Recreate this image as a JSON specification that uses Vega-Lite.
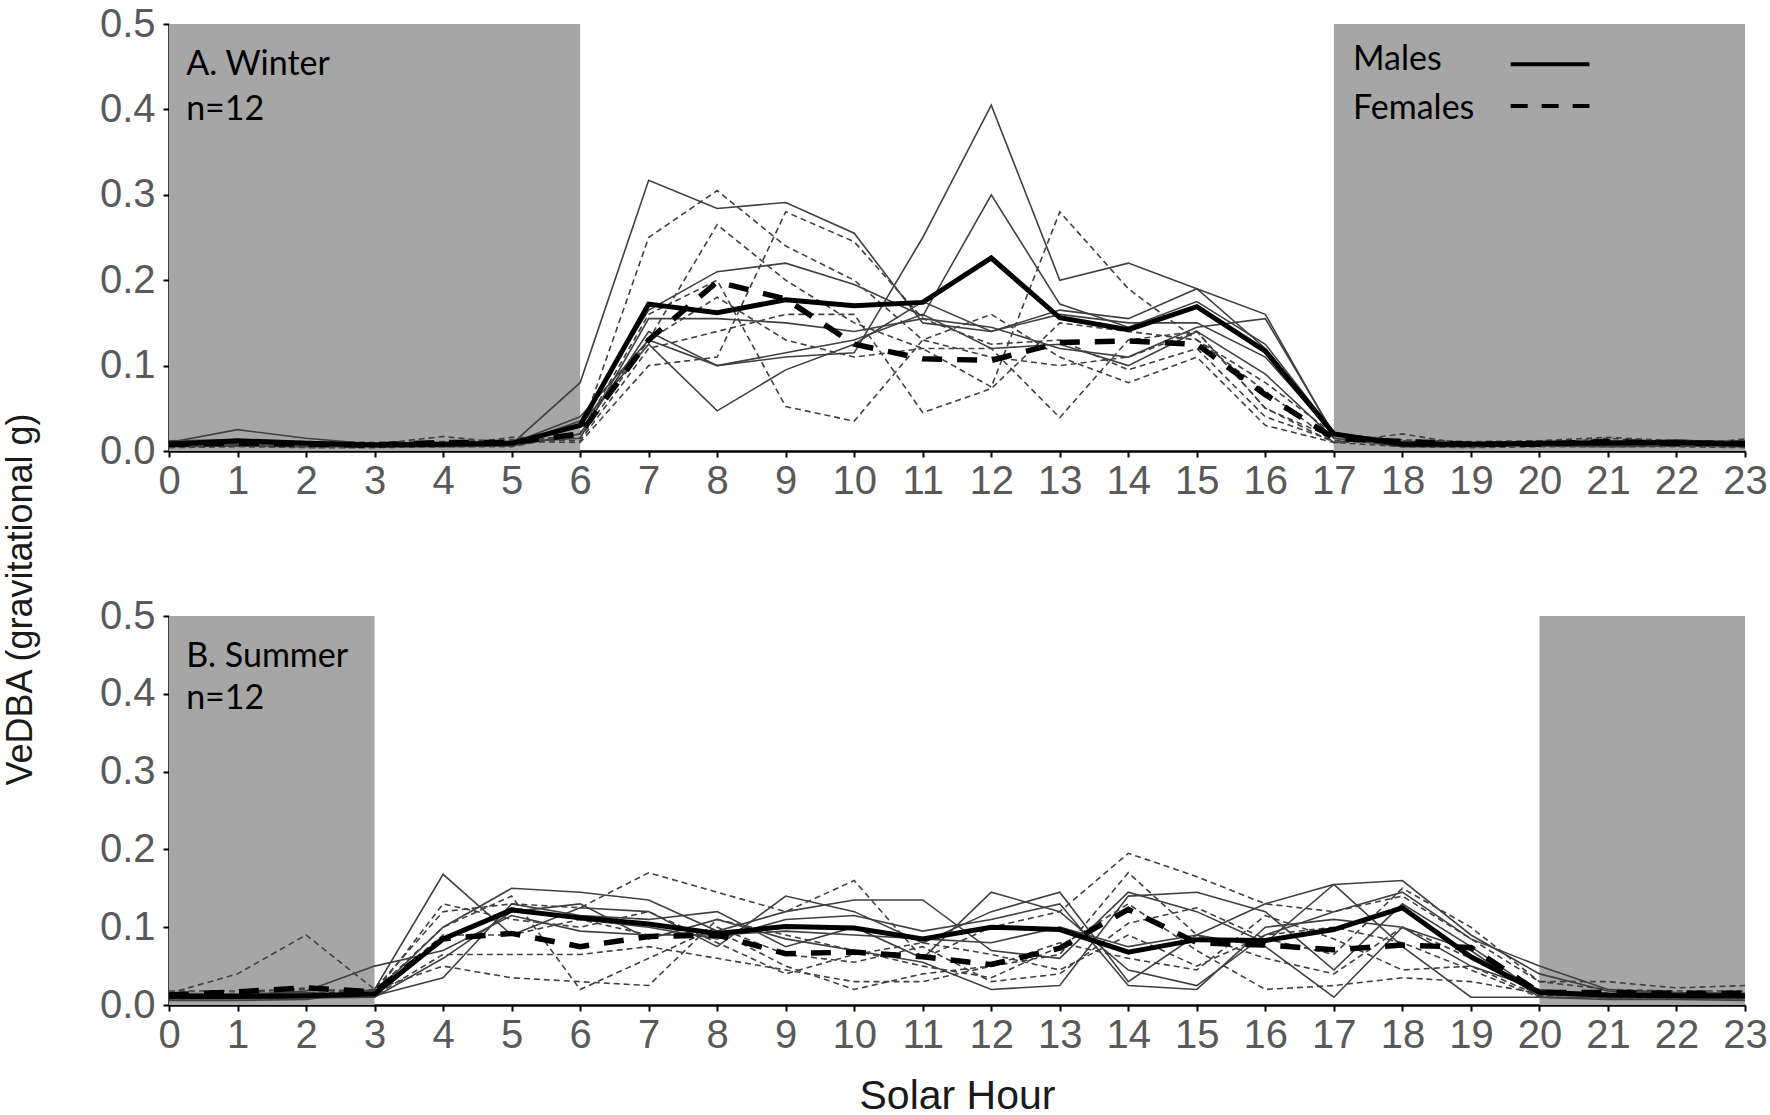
{
"$schema":"https://vega.github.io/schema/vega-lite/v6.json",
"background":"white",
"padding":{"left":1,"top":4,"right":5,"bottom":0},
"spacing":165,
"bounds":"flush",
"config":{"view":{"stroke":null},
"axis":{"grid":false,"domainColor":"#000","domainWidth":2.5,"tickColor":"#000","tickWidth":2,"tickSize":6,"labelFont":"Liberation Sans","labelFontSize":40,"labelColor":"#595959","titleFont":"Liberation Sans","titleFontSize":38,"titleColor":"#1a1a1a","titleFontWeight":"normal","labelOverlap":false,"labelFlush":false}},
"datasets":{
"shade":[{"s":"W","a":0,"b":6},{"s":"W","a":17,"b":23},{"s":"S","a":0,"b":3},{"s":"S","a":20,"b":23}],
"labels":[{"s":"W","h":0.25,"v":0.452,"t":"A. Winter"},{"s":"W","h":0.25,"v":0.399,"t":"n=12"},{"s":"S","h":0.25,"v":0.447,"t":"B. Summer"},{"s":"S","h":0.25,"v":0.393,"t":"n=12"},{"s":"W","h":17.28,"v":0.458,"t":"Males"},{"s":"W","h":17.28,"v":0.400,"t":"Females"}],
"legend":[{"g":"M","x1":19.58,"x2":20.73,"lv":0.453},{"g":"F","x1":19.58,"x2":20.73,"lv":0.404}],
"means":[
{"s":"W","g":"M","h":0,"v":0.008},{"s":"W","g":"M","h":1,"v":0.012},{"s":"W","g":"M","h":2,"v":0.009},{"s":"W","g":"M","h":3,"v":0.007},{"s":"W","g":"M","h":4,"v":0.008},{"s":"W","g":"M","h":5,"v":0.009},{"s":"W","g":"M","h":6,"v":0.030},{"s":"W","g":"M","h":7,"v":0.172},{"s":"W","g":"M","h":8,"v":0.162},{"s":"W","g":"M","h":9,"v":0.177},{"s":"W","g":"M","h":10,"v":0.170},{"s":"W","g":"M","h":11,"v":0.174},{"s":"W","g":"M","h":12,"v":0.226},{"s":"W","g":"M","h":13,"v":0.156},{"s":"W","g":"M","h":14,"v":0.142},{"s":"W","g":"M","h":15,"v":0.169},{"s":"W","g":"M","h":16,"v":0.117},{"s":"W","g":"M","h":17,"v":0.020},{"s":"W","g":"M","h":18,"v":0.008},{"s":"W","g":"M","h":19,"v":0.008},{"s":"W","g":"M","h":20,"v":0.009},{"s":"W","g":"M","h":21,"v":0.009},{"s":"W","g":"M","h":22,"v":0.010},{"s":"W","g":"M","h":23,"v":0.008},
{"s":"W","g":"F","h":0,"v":0.008},{"s":"W","g":"F","h":1,"v":0.009},{"s":"W","g":"F","h":2,"v":0.008},{"s":"W","g":"F","h":3,"v":0.007},{"s":"W","g":"F","h":4,"v":0.010},{"s":"W","g":"F","h":5,"v":0.010},{"s":"W","g":"F","h":6,"v":0.020},{"s":"W","g":"F","h":7,"v":0.130},{"s":"W","g":"F","h":8,"v":0.198},{"s":"W","g":"F","h":9,"v":0.178},{"s":"W","g":"F","h":10,"v":0.125},{"s":"W","g":"F","h":11,"v":0.108},{"s":"W","g":"F","h":12,"v":0.106},{"s":"W","g":"F","h":13,"v":0.127},{"s":"W","g":"F","h":14,"v":0.129},{"s":"W","g":"F","h":15,"v":0.125},{"s":"W","g":"F","h":16,"v":0.066},{"s":"W","g":"F","h":17,"v":0.015},{"s":"W","g":"F","h":18,"v":0.011},{"s":"W","g":"F","h":19,"v":0.008},{"s":"W","g":"F","h":20,"v":0.008},{"s":"W","g":"F","h":21,"v":0.011},{"s":"W","g":"F","h":22,"v":0.009},{"s":"W","g":"F","h":23,"v":0.009},
{"s":"S","g":"M","h":0,"v":0.011},{"s":"S","g":"M","h":1,"v":0.011},{"s":"S","g":"M","h":2,"v":0.012},{"s":"S","g":"M","h":3,"v":0.014},{"s":"S","g":"M","h":4,"v":0.085},{"s":"S","g":"M","h":5,"v":0.122},{"s":"S","g":"M","h":6,"v":0.112},{"s":"S","g":"M","h":7,"v":0.104},{"s":"S","g":"M","h":8,"v":0.092},{"s":"S","g":"M","h":9,"v":0.101},{"s":"S","g":"M","h":10,"v":0.099},{"s":"S","g":"M","h":11,"v":0.085},{"s":"S","g":"M","h":12,"v":0.100},{"s":"S","g":"M","h":13,"v":0.097},{"s":"S","g":"M","h":14,"v":0.068},{"s":"S","g":"M","h":15,"v":0.084},{"s":"S","g":"M","h":16,"v":0.083},{"s":"S","g":"M","h":17,"v":0.097},{"s":"S","g":"M","h":18,"v":0.125},{"s":"S","g":"M","h":19,"v":0.062},{"s":"S","g":"M","h":20,"v":0.016},{"s":"S","g":"M","h":21,"v":0.013},{"s":"S","g":"M","h":22,"v":0.012},{"s":"S","g":"M","h":23,"v":0.012},
{"s":"S","g":"F","h":0,"v":0.013},{"s":"S","g":"F","h":1,"v":0.017},{"s":"S","g":"F","h":2,"v":0.022},{"s":"S","g":"F","h":3,"v":0.017},{"s":"S","g":"F","h":4,"v":0.085},{"s":"S","g":"F","h":5,"v":0.092},{"s":"S","g":"F","h":6,"v":0.075},{"s":"S","g":"F","h":7,"v":0.088},{"s":"S","g":"F","h":8,"v":0.090},{"s":"S","g":"F","h":9,"v":0.066},{"s":"S","g":"F","h":10,"v":0.068},{"s":"S","g":"F","h":11,"v":0.062},{"s":"S","g":"F","h":12,"v":0.052},{"s":"S","g":"F","h":13,"v":0.073},{"s":"S","g":"F","h":14,"v":0.123},{"s":"S","g":"F","h":15,"v":0.080},{"s":"S","g":"F","h":16,"v":0.077},{"s":"S","g":"F","h":17,"v":0.071},{"s":"S","g":"F","h":18,"v":0.077},{"s":"S","g":"F","h":19,"v":0.074},{"s":"S","g":"F","h":20,"v":0.016},{"s":"S","g":"F","h":21,"v":0.016},{"s":"S","g":"F","h":22,"v":0.015},{"s":"S","g":"F","h":23,"v":0.015}
],
"ind":[
{"s":"W","id":"M1","g":"M","h":0,"v":0.008},{"s":"W","id":"M1","g":"M","h":1,"v":0.010},{"s":"W","id":"M1","g":"M","h":2,"v":0.008},{"s":"W","id":"M1","g":"M","h":3,"v":0.007},{"s":"W","id":"M1","g":"M","h":4,"v":0.007},{"s":"W","id":"M1","g":"M","h":5,"v":0.008},{"s":"W","id":"M1","g":"M","h":6,"v":0.080},{"s":"W","id":"M1","g":"M","h":7,"v":0.317},{"s":"W","id":"M1","g":"M","h":8,"v":0.284},{"s":"W","id":"M1","g":"M","h":9,"v":0.291},{"s":"W","id":"M1","g":"M","h":10,"v":0.255},{"s":"W","id":"M1","g":"M","h":11,"v":0.150},{"s":"W","id":"M1","g":"M","h":12,"v":0.140},{"s":"W","id":"M1","g":"M","h":13,"v":0.165},{"s":"W","id":"M1","g":"M","h":14,"v":0.155},{"s":"W","id":"M1","g":"M","h":15,"v":0.190},{"s":"W","id":"M1","g":"M","h":16,"v":0.120},{"s":"W","id":"M1","g":"M","h":17,"v":0.020},{"s":"W","id":"M1","g":"M","h":18,"v":0.008},{"s":"W","id":"M1","g":"M","h":19,"v":0.007},{"s":"W","id":"M1","g":"M","h":20,"v":0.008},{"s":"W","id":"M1","g":"M","h":21,"v":0.008},{"s":"W","id":"M1","g":"M","h":22,"v":0.009},{"s":"W","id":"M1","g":"M","h":23,"v":0.008},
{"s":"W","id":"M2","g":"M","h":0,"v":0.010},{"s":"W","id":"M2","g":"M","h":1,"v":0.025},{"s":"W","id":"M2","g":"M","h":2,"v":0.015},{"s":"W","id":"M2","g":"M","h":3,"v":0.008},{"s":"W","id":"M2","g":"M","h":4,"v":0.008},{"s":"W","id":"M2","g":"M","h":5,"v":0.009},{"s":"W","id":"M2","g":"M","h":6,"v":0.040},{"s":"W","id":"M2","g":"M","h":7,"v":0.130},{"s":"W","id":"M2","g":"M","h":8,"v":0.100},{"s":"W","id":"M2","g":"M","h":9,"v":0.110},{"s":"W","id":"M2","g":"M","h":10,"v":0.115},{"s":"W","id":"M2","g":"M","h":11,"v":0.250},{"s":"W","id":"M2","g":"M","h":12,"v":0.405},{"s":"W","id":"M2","g":"M","h":13,"v":0.200},{"s":"W","id":"M2","g":"M","h":14,"v":0.220},{"s":"W","id":"M2","g":"M","h":15,"v":0.190},{"s":"W","id":"M2","g":"M","h":16,"v":0.160},{"s":"W","id":"M2","g":"M","h":17,"v":0.018},{"s":"W","id":"M2","g":"M","h":18,"v":0.009},{"s":"W","id":"M2","g":"M","h":19,"v":0.008},{"s":"W","id":"M2","g":"M","h":20,"v":0.009},{"s":"W","id":"M2","g":"M","h":21,"v":0.010},{"s":"W","id":"M2","g":"M","h":22,"v":0.013},{"s":"W","id":"M2","g":"M","h":23,"v":0.009},
{"s":"W","id":"M3","g":"M","h":0,"v":0.006},{"s":"W","id":"M3","g":"M","h":1,"v":0.008},{"s":"W","id":"M3","g":"M","h":2,"v":0.007},{"s":"W","id":"M3","g":"M","h":3,"v":0.006},{"s":"W","id":"M3","g":"M","h":4,"v":0.006},{"s":"W","id":"M3","g":"M","h":5,"v":0.007},{"s":"W","id":"M3","g":"M","h":6,"v":0.035},{"s":"W","id":"M3","g":"M","h":7,"v":0.165},{"s":"W","id":"M3","g":"M","h":8,"v":0.210},{"s":"W","id":"M3","g":"M","h":9,"v":0.220},{"s":"W","id":"M3","g":"M","h":10,"v":0.195},{"s":"W","id":"M3","g":"M","h":11,"v":0.158},{"s":"W","id":"M3","g":"M","h":12,"v":0.300},{"s":"W","id":"M3","g":"M","h":13,"v":0.172},{"s":"W","id":"M3","g":"M","h":14,"v":0.145},{"s":"W","id":"M3","g":"M","h":15,"v":0.175},{"s":"W","id":"M3","g":"M","h":16,"v":0.125},{"s":"W","id":"M3","g":"M","h":17,"v":0.022},{"s":"W","id":"M3","g":"M","h":18,"v":0.006},{"s":"W","id":"M3","g":"M","h":19,"v":0.006},{"s":"W","id":"M3","g":"M","h":20,"v":0.007},{"s":"W","id":"M3","g":"M","h":21,"v":0.007},{"s":"W","id":"M3","g":"M","h":22,"v":0.007},{"s":"W","id":"M3","g":"M","h":23,"v":0.006},
{"s":"W","id":"M4","g":"M","h":0,"v":0.012},{"s":"W","id":"M4","g":"M","h":1,"v":0.013},{"s":"W","id":"M4","g":"M","h":2,"v":0.010},{"s":"W","id":"M4","g":"M","h":3,"v":0.009},{"s":"W","id":"M4","g":"M","h":4,"v":0.010},{"s":"W","id":"M4","g":"M","h":5,"v":0.011},{"s":"W","id":"M4","g":"M","h":6,"v":0.030},{"s":"W","id":"M4","g":"M","h":7,"v":0.125},{"s":"W","id":"M4","g":"M","h":8,"v":0.047},{"s":"W","id":"M4","g":"M","h":9,"v":0.095},{"s":"W","id":"M4","g":"M","h":10,"v":0.125},{"s":"W","id":"M4","g":"M","h":11,"v":0.175},{"s":"W","id":"M4","g":"M","h":12,"v":0.140},{"s":"W","id":"M4","g":"M","h":13,"v":0.160},{"s":"W","id":"M4","g":"M","h":14,"v":0.150},{"s":"W","id":"M4","g":"M","h":15,"v":0.150},{"s":"W","id":"M4","g":"M","h":16,"v":0.110},{"s":"W","id":"M4","g":"M","h":17,"v":0.020},{"s":"W","id":"M4","g":"M","h":18,"v":0.011},{"s":"W","id":"M4","g":"M","h":19,"v":0.010},{"s":"W","id":"M4","g":"M","h":20,"v":0.011},{"s":"W","id":"M4","g":"M","h":21,"v":0.012},{"s":"W","id":"M4","g":"M","h":22,"v":0.012},{"s":"W","id":"M4","g":"M","h":23,"v":0.011},
{"s":"W","id":"M5","g":"M","h":0,"v":0.009},{"s":"W","id":"M5","g":"M","h":1,"v":0.011},{"s":"W","id":"M5","g":"M","h":2,"v":0.009},{"s":"W","id":"M5","g":"M","h":3,"v":0.008},{"s":"W","id":"M5","g":"M","h":4,"v":0.009},{"s":"W","id":"M5","g":"M","h":5,"v":0.010},{"s":"W","id":"M5","g":"M","h":6,"v":0.015},{"s":"W","id":"M5","g":"M","h":7,"v":0.155},{"s":"W","id":"M5","g":"M","h":8,"v":0.155},{"s":"W","id":"M5","g":"M","h":9,"v":0.150},{"s":"W","id":"M5","g":"M","h":10,"v":0.140},{"s":"W","id":"M5","g":"M","h":11,"v":0.155},{"s":"W","id":"M5","g":"M","h":12,"v":0.145},{"s":"W","id":"M5","g":"M","h":13,"v":0.120},{"s":"W","id":"M5","g":"M","h":14,"v":0.110},{"s":"W","id":"M5","g":"M","h":15,"v":0.145},{"s":"W","id":"M5","g":"M","h":16,"v":0.155},{"s":"W","id":"M5","g":"M","h":17,"v":0.020},{"s":"W","id":"M5","g":"M","h":18,"v":0.010},{"s":"W","id":"M5","g":"M","h":19,"v":0.009},{"s":"W","id":"M5","g":"M","h":20,"v":0.010},{"s":"W","id":"M5","g":"M","h":21,"v":0.010},{"s":"W","id":"M5","g":"M","h":22,"v":0.011},{"s":"W","id":"M5","g":"M","h":23,"v":0.010},
{"s":"W","id":"M6","g":"M","h":0,"v":0.005},{"s":"W","id":"M6","g":"M","h":1,"v":0.006},{"s":"W","id":"M6","g":"M","h":2,"v":0.005},{"s":"W","id":"M6","g":"M","h":3,"v":0.005},{"s":"W","id":"M6","g":"M","h":4,"v":0.005},{"s":"W","id":"M6","g":"M","h":5,"v":0.006},{"s":"W","id":"M6","g":"M","h":6,"v":0.020},{"s":"W","id":"M6","g":"M","h":7,"v":0.140},{"s":"W","id":"M6","g":"M","h":8,"v":0.100},{"s":"W","id":"M6","g":"M","h":9,"v":0.115},{"s":"W","id":"M6","g":"M","h":10,"v":0.130},{"s":"W","id":"M6","g":"M","h":11,"v":0.160},{"s":"W","id":"M6","g":"M","h":12,"v":0.120},{"s":"W","id":"M6","g":"M","h":13,"v":0.125},{"s":"W","id":"M6","g":"M","h":14,"v":0.100},{"s":"W","id":"M6","g":"M","h":15,"v":0.140},{"s":"W","id":"M6","g":"M","h":16,"v":0.090},{"s":"W","id":"M6","g":"M","h":17,"v":0.015},{"s":"W","id":"M6","g":"M","h":18,"v":0.005},{"s":"W","id":"M6","g":"M","h":19,"v":0.005},{"s":"W","id":"M6","g":"M","h":20,"v":0.006},{"s":"W","id":"M6","g":"M","h":21,"v":0.005},{"s":"W","id":"M6","g":"M","h":22,"v":0.006},{"s":"W","id":"M6","g":"M","h":23,"v":0.005},
{"s":"W","id":"F1","g":"F","h":0,"v":0.008},{"s":"W","id":"F1","g":"F","h":1,"v":0.009},{"s":"W","id":"F1","g":"F","h":2,"v":0.008},{"s":"W","id":"F1","g":"F","h":3,"v":0.008},{"s":"W","id":"F1","g":"F","h":4,"v":0.017},{"s":"W","id":"F1","g":"F","h":5,"v":0.009},{"s":"W","id":"F1","g":"F","h":6,"v":0.020},{"s":"W","id":"F1","g":"F","h":7,"v":0.250},{"s":"W","id":"F1","g":"F","h":8,"v":0.305},{"s":"W","id":"F1","g":"F","h":9,"v":0.240},{"s":"W","id":"F1","g":"F","h":10,"v":0.200},{"s":"W","id":"F1","g":"F","h":11,"v":0.130},{"s":"W","id":"F1","g":"F","h":12,"v":0.110},{"s":"W","id":"F1","g":"F","h":13,"v":0.100},{"s":"W","id":"F1","g":"F","h":14,"v":0.110},{"s":"W","id":"F1","g":"F","h":15,"v":0.140},{"s":"W","id":"F1","g":"F","h":16,"v":0.050},{"s":"W","id":"F1","g":"F","h":17,"v":0.010},{"s":"W","id":"F1","g":"F","h":18,"v":0.012},{"s":"W","id":"F1","g":"F","h":19,"v":0.008},{"s":"W","id":"F1","g":"F","h":20,"v":0.008},{"s":"W","id":"F1","g":"F","h":21,"v":0.015},{"s":"W","id":"F1","g":"F","h":22,"v":0.009},{"s":"W","id":"F1","g":"F","h":23,"v":0.008},
{"s":"W","id":"F2","g":"F","h":0,"v":0.006},{"s":"W","id":"F2","g":"F","h":1,"v":0.007},{"s":"W","id":"F2","g":"F","h":2,"v":0.006},{"s":"W","id":"F2","g":"F","h":3,"v":0.006},{"s":"W","id":"F2","g":"F","h":4,"v":0.006},{"s":"W","id":"F2","g":"F","h":5,"v":0.016},{"s":"W","id":"F2","g":"F","h":6,"v":0.015},{"s":"W","id":"F2","g":"F","h":7,"v":0.130},{"s":"W","id":"F2","g":"F","h":8,"v":0.265},{"s":"W","id":"F2","g":"F","h":9,"v":0.200},{"s":"W","id":"F2","g":"F","h":10,"v":0.150},{"s":"W","id":"F2","g":"F","h":11,"v":0.120},{"s":"W","id":"F2","g":"F","h":12,"v":0.075},{"s":"W","id":"F2","g":"F","h":13,"v":0.280},{"s":"W","id":"F2","g":"F","h":14,"v":0.190},{"s":"W","id":"F2","g":"F","h":15,"v":0.130},{"s":"W","id":"F2","g":"F","h":16,"v":0.070},{"s":"W","id":"F2","g":"F","h":17,"v":0.010},{"s":"W","id":"F2","g":"F","h":18,"v":0.020},{"s":"W","id":"F2","g":"F","h":19,"v":0.007},{"s":"W","id":"F2","g":"F","h":20,"v":0.007},{"s":"W","id":"F2","g":"F","h":21,"v":0.008},{"s":"W","id":"F2","g":"F","h":22,"v":0.007},{"s":"W","id":"F2","g":"F","h":23,"v":0.014},
{"s":"W","id":"F3","g":"F","h":0,"v":0.010},{"s":"W","id":"F3","g":"F","h":1,"v":0.011},{"s":"W","id":"F3","g":"F","h":2,"v":0.010},{"s":"W","id":"F3","g":"F","h":3,"v":0.009},{"s":"W","id":"F3","g":"F","h":4,"v":0.010},{"s":"W","id":"F3","g":"F","h":5,"v":0.011},{"s":"W","id":"F3","g":"F","h":6,"v":0.010},{"s":"W","id":"F3","g":"F","h":7,"v":0.100},{"s":"W","id":"F3","g":"F","h":8,"v":0.110},{"s":"W","id":"F3","g":"F","h":9,"v":0.280},{"s":"W","id":"F3","g":"F","h":10,"v":0.245},{"s":"W","id":"F3","g":"F","h":11,"v":0.155},{"s":"W","id":"F3","g":"F","h":12,"v":0.125},{"s":"W","id":"F3","g":"F","h":13,"v":0.130},{"s":"W","id":"F3","g":"F","h":14,"v":0.095},{"s":"W","id":"F3","g":"F","h":15,"v":0.120},{"s":"W","id":"F3","g":"F","h":16,"v":0.040},{"s":"W","id":"F3","g":"F","h":17,"v":0.012},{"s":"W","id":"F3","g":"F","h":18,"v":0.010},{"s":"W","id":"F3","g":"F","h":19,"v":0.009},{"s":"W","id":"F3","g":"F","h":20,"v":0.010},{"s":"W","id":"F3","g":"F","h":21,"v":0.011},{"s":"W","id":"F3","g":"F","h":22,"v":0.010},{"s":"W","id":"F3","g":"F","h":23,"v":0.010},
{"s":"W","id":"F4","g":"F","h":0,"v":0.004},{"s":"W","id":"F4","g":"F","h":1,"v":0.005},{"s":"W","id":"F4","g":"F","h":2,"v":0.004},{"s":"W","id":"F4","g":"F","h":3,"v":0.004},{"s":"W","id":"F4","g":"F","h":4,"v":0.005},{"s":"W","id":"F4","g":"F","h":5,"v":0.005},{"s":"W","id":"F4","g":"F","h":6,"v":0.020},{"s":"W","id":"F4","g":"F","h":7,"v":0.160},{"s":"W","id":"F4","g":"F","h":8,"v":0.200},{"s":"W","id":"F4","g":"F","h":9,"v":0.052},{"s":"W","id":"F4","g":"F","h":10,"v":0.035},{"s":"W","id":"F4","g":"F","h":11,"v":0.130},{"s":"W","id":"F4","g":"F","h":12,"v":0.160},{"s":"W","id":"F4","g":"F","h":13,"v":0.110},{"s":"W","id":"F4","g":"F","h":14,"v":0.080},{"s":"W","id":"F4","g":"F","h":15,"v":0.110},{"s":"W","id":"F4","g":"F","h":16,"v":0.030},{"s":"W","id":"F4","g":"F","h":17,"v":0.010},{"s":"W","id":"F4","g":"F","h":18,"v":0.005},{"s":"W","id":"F4","g":"F","h":19,"v":0.004},{"s":"W","id":"F4","g":"F","h":20,"v":0.005},{"s":"W","id":"F4","g":"F","h":21,"v":0.005},{"s":"W","id":"F4","g":"F","h":22,"v":0.005},{"s":"W","id":"F4","g":"F","h":23,"v":0.004},
{"s":"W","id":"F5","g":"F","h":0,"v":0.012},{"s":"W","id":"F5","g":"F","h":1,"v":0.012},{"s":"W","id":"F5","g":"F","h":2,"v":0.011},{"s":"W","id":"F5","g":"F","h":3,"v":0.010},{"s":"W","id":"F5","g":"F","h":4,"v":0.011},{"s":"W","id":"F5","g":"F","h":5,"v":0.013},{"s":"W","id":"F5","g":"F","h":6,"v":0.012},{"s":"W","id":"F5","g":"F","h":7,"v":0.120},{"s":"W","id":"F5","g":"F","h":8,"v":0.140},{"s":"W","id":"F5","g":"F","h":9,"v":0.160},{"s":"W","id":"F5","g":"F","h":10,"v":0.160},{"s":"W","id":"F5","g":"F","h":11,"v":0.045},{"s":"W","id":"F5","g":"F","h":12,"v":0.073},{"s":"W","id":"F5","g":"F","h":13,"v":0.150},{"s":"W","id":"F5","g":"F","h":14,"v":0.140},{"s":"W","id":"F5","g":"F","h":15,"v":0.130},{"s":"W","id":"F5","g":"F","h":16,"v":0.080},{"s":"W","id":"F5","g":"F","h":17,"v":0.020},{"s":"W","id":"F5","g":"F","h":18,"v":0.013},{"s":"W","id":"F5","g":"F","h":19,"v":0.011},{"s":"W","id":"F5","g":"F","h":20,"v":0.012},{"s":"W","id":"F5","g":"F","h":21,"v":0.016},{"s":"W","id":"F5","g":"F","h":22,"v":0.012},{"s":"W","id":"F5","g":"F","h":23,"v":0.011},
{"s":"W","id":"F6","g":"F","h":0,"v":0.007},{"s":"W","id":"F6","g":"F","h":1,"v":0.008},{"s":"W","id":"F6","g":"F","h":2,"v":0.007},{"s":"W","id":"F6","g":"F","h":3,"v":0.007},{"s":"W","id":"F6","g":"F","h":4,"v":0.008},{"s":"W","id":"F6","g":"F","h":5,"v":0.008},{"s":"W","id":"F6","g":"F","h":6,"v":0.030},{"s":"W","id":"F6","g":"F","h":7,"v":0.130},{"s":"W","id":"F6","g":"F","h":8,"v":0.180},{"s":"W","id":"F6","g":"F","h":9,"v":0.130},{"s":"W","id":"F6","g":"F","h":10,"v":0.110},{"s":"W","id":"F6","g":"F","h":11,"v":0.120},{"s":"W","id":"F6","g":"F","h":12,"v":0.120},{"s":"W","id":"F6","g":"F","h":13,"v":0.039},{"s":"W","id":"F6","g":"F","h":14,"v":0.130},{"s":"W","id":"F6","g":"F","h":15,"v":0.140},{"s":"W","id":"F6","g":"F","h":16,"v":0.050},{"s":"W","id":"F6","g":"F","h":17,"v":0.015},{"s":"W","id":"F6","g":"F","h":18,"v":0.008},{"s":"W","id":"F6","g":"F","h":19,"v":0.007},{"s":"W","id":"F6","g":"F","h":20,"v":0.008},{"s":"W","id":"F6","g":"F","h":21,"v":0.008},{"s":"W","id":"F6","g":"F","h":22,"v":0.008},{"s":"W","id":"F6","g":"F","h":23,"v":0.007},
{"s":"S","id":"M1","g":"M","h":0,"v":0.010},{"s":"S","id":"M1","g":"M","h":1,"v":0.009},{"s":"S","id":"M1","g":"M","h":2,"v":0.010},{"s":"S","id":"M1","g":"M","h":3,"v":0.020},{"s":"S","id":"M1","g":"M","h":4,"v":0.168},{"s":"S","id":"M1","g":"M","h":5,"v":0.090},{"s":"S","id":"M1","g":"M","h":6,"v":0.125},{"s":"S","id":"M1","g":"M","h":7,"v":0.120},{"s":"S","id":"M1","g":"M","h":8,"v":0.075},{"s":"S","id":"M1","g":"M","h":9,"v":0.140},{"s":"S","id":"M1","g":"M","h":10,"v":0.120},{"s":"S","id":"M1","g":"M","h":11,"v":0.080},{"s":"S","id":"M1","g":"M","h":12,"v":0.120},{"s":"S","id":"M1","g":"M","h":13,"v":0.145},{"s":"S","id":"M1","g":"M","h":14,"v":0.030},{"s":"S","id":"M1","g":"M","h":15,"v":0.090},{"s":"S","id":"M1","g":"M","h":16,"v":0.130},{"s":"S","id":"M1","g":"M","h":17,"v":0.155},{"s":"S","id":"M1","g":"M","h":18,"v":0.075},{"s":"S","id":"M1","g":"M","h":19,"v":0.010},{"s":"S","id":"M1","g":"M","h":20,"v":0.010},{"s":"S","id":"M1","g":"M","h":21,"v":0.010},{"s":"S","id":"M1","g":"M","h":22,"v":0.010},{"s":"S","id":"M1","g":"M","h":23,"v":0.010},
{"s":"S","id":"M2","g":"M","h":0,"v":0.012},{"s":"S","id":"M2","g":"M","h":1,"v":0.011},{"s":"S","id":"M2","g":"M","h":2,"v":0.013},{"s":"S","id":"M2","g":"M","h":3,"v":0.015},{"s":"S","id":"M2","g":"M","h":4,"v":0.100},{"s":"S","id":"M2","g":"M","h":5,"v":0.150},{"s":"S","id":"M2","g":"M","h":6,"v":0.145},{"s":"S","id":"M2","g":"M","h":7,"v":0.135},{"s":"S","id":"M2","g":"M","h":8,"v":0.095},{"s":"S","id":"M2","g":"M","h":9,"v":0.120},{"s":"S","id":"M2","g":"M","h":10,"v":0.135},{"s":"S","id":"M2","g":"M","h":11,"v":0.135},{"s":"S","id":"M2","g":"M","h":12,"v":0.070},{"s":"S","id":"M2","g":"M","h":13,"v":0.060},{"s":"S","id":"M2","g":"M","h":14,"v":0.145},{"s":"S","id":"M2","g":"M","h":15,"v":0.120},{"s":"S","id":"M2","g":"M","h":16,"v":0.080},{"s":"S","id":"M2","g":"M","h":17,"v":0.155},{"s":"S","id":"M2","g":"M","h":18,"v":0.160},{"s":"S","id":"M2","g":"M","h":19,"v":0.090},{"s":"S","id":"M2","g":"M","h":20,"v":0.040},{"s":"S","id":"M2","g":"M","h":21,"v":0.018},{"s":"S","id":"M2","g":"M","h":22,"v":0.015},{"s":"S","id":"M2","g":"M","h":23,"v":0.014},
{"s":"S","id":"M3","g":"M","h":0,"v":0.008},{"s":"S","id":"M3","g":"M","h":1,"v":0.008},{"s":"S","id":"M3","g":"M","h":2,"v":0.009},{"s":"S","id":"M3","g":"M","h":3,"v":0.010},{"s":"S","id":"M3","g":"M","h":4,"v":0.060},{"s":"S","id":"M3","g":"M","h":5,"v":0.120},{"s":"S","id":"M3","g":"M","h":6,"v":0.130},{"s":"S","id":"M3","g":"M","h":7,"v":0.085},{"s":"S","id":"M3","g":"M","h":8,"v":0.110},{"s":"S","id":"M3","g":"M","h":9,"v":0.085},{"s":"S","id":"M3","g":"M","h":10,"v":0.070},{"s":"S","id":"M3","g":"M","h":11,"v":0.055},{"s":"S","id":"M3","g":"M","h":12,"v":0.020},{"s":"S","id":"M3","g":"M","h":13,"v":0.025},{"s":"S","id":"M3","g":"M","h":14,"v":0.140},{"s":"S","id":"M3","g":"M","h":15,"v":0.145},{"s":"S","id":"M3","g":"M","h":16,"v":0.120},{"s":"S","id":"M3","g":"M","h":17,"v":0.045},{"s":"S","id":"M3","g":"M","h":18,"v":0.130},{"s":"S","id":"M3","g":"M","h":19,"v":0.075},{"s":"S","id":"M3","g":"M","h":20,"v":0.015},{"s":"S","id":"M3","g":"M","h":21,"v":0.009},{"s":"S","id":"M3","g":"M","h":22,"v":0.009},{"s":"S","id":"M3","g":"M","h":23,"v":0.008},
{"s":"S","id":"M4","g":"M","h":0,"v":0.015},{"s":"S","id":"M4","g":"M","h":1,"v":0.014},{"s":"S","id":"M4","g":"M","h":2,"v":0.016},{"s":"S","id":"M4","g":"M","h":3,"v":0.012},{"s":"S","id":"M4","g":"M","h":4,"v":0.035},{"s":"S","id":"M4","g":"M","h":5,"v":0.130},{"s":"S","id":"M4","g":"M","h":6,"v":0.115},{"s":"S","id":"M4","g":"M","h":7,"v":0.110},{"s":"S","id":"M4","g":"M","h":8,"v":0.120},{"s":"S","id":"M4","g":"M","h":9,"v":0.075},{"s":"S","id":"M4","g":"M","h":10,"v":0.100},{"s":"S","id":"M4","g":"M","h":11,"v":0.060},{"s":"S","id":"M4","g":"M","h":12,"v":0.145},{"s":"S","id":"M4","g":"M","h":13,"v":0.120},{"s":"S","id":"M4","g":"M","h":14,"v":0.045},{"s":"S","id":"M4","g":"M","h":15,"v":0.025},{"s":"S","id":"M4","g":"M","h":16,"v":0.090},{"s":"S","id":"M4","g":"M","h":17,"v":0.120},{"s":"S","id":"M4","g":"M","h":18,"v":0.145},{"s":"S","id":"M4","g":"M","h":19,"v":0.085},{"s":"S","id":"M4","g":"M","h":20,"v":0.050},{"s":"S","id":"M4","g":"M","h":21,"v":0.020},{"s":"S","id":"M4","g":"M","h":22,"v":0.016},{"s":"S","id":"M4","g":"M","h":23,"v":0.015},
{"s":"S","id":"M5","g":"M","h":0,"v":0.006},{"s":"S","id":"M5","g":"M","h":1,"v":0.006},{"s":"S","id":"M5","g":"M","h":2,"v":0.007},{"s":"S","id":"M5","g":"M","h":3,"v":0.018},{"s":"S","id":"M5","g":"M","h":4,"v":0.085},{"s":"S","id":"M5","g":"M","h":5,"v":0.125},{"s":"S","id":"M5","g":"M","h":6,"v":0.110},{"s":"S","id":"M5","g":"M","h":7,"v":0.100},{"s":"S","id":"M5","g":"M","h":8,"v":0.085},{"s":"S","id":"M5","g":"M","h":9,"v":0.110},{"s":"S","id":"M5","g":"M","h":10,"v":0.115},{"s":"S","id":"M5","g":"M","h":11,"v":0.095},{"s":"S","id":"M5","g":"M","h":12,"v":0.110},{"s":"S","id":"M5","g":"M","h":13,"v":0.130},{"s":"S","id":"M5","g":"M","h":14,"v":0.025},{"s":"S","id":"M5","g":"M","h":15,"v":0.020},{"s":"S","id":"M5","g":"M","h":16,"v":0.100},{"s":"S","id":"M5","g":"M","h":17,"v":0.110},{"s":"S","id":"M5","g":"M","h":18,"v":0.100},{"s":"S","id":"M5","g":"M","h":19,"v":0.070},{"s":"S","id":"M5","g":"M","h":20,"v":0.010},{"s":"S","id":"M5","g":"M","h":21,"v":0.007},{"s":"S","id":"M5","g":"M","h":22,"v":0.007},{"s":"S","id":"M5","g":"M","h":23,"v":0.006},
{"s":"S","id":"M6","g":"M","h":0,"v":0.011},{"s":"S","id":"M6","g":"M","h":1,"v":0.012},{"s":"S","id":"M6","g":"M","h":2,"v":0.018},{"s":"S","id":"M6","g":"M","h":3,"v":0.050},{"s":"S","id":"M6","g":"M","h":4,"v":0.070},{"s":"S","id":"M6","g":"M","h":5,"v":0.115},{"s":"S","id":"M6","g":"M","h":6,"v":0.095},{"s":"S","id":"M6","g":"M","h":7,"v":0.090},{"s":"S","id":"M6","g":"M","h":8,"v":0.090},{"s":"S","id":"M6","g":"M","h":9,"v":0.095},{"s":"S","id":"M6","g":"M","h":10,"v":0.090},{"s":"S","id":"M6","g":"M","h":11,"v":0.085},{"s":"S","id":"M6","g":"M","h":12,"v":0.080},{"s":"S","id":"M6","g":"M","h":13,"v":0.100},{"s":"S","id":"M6","g":"M","h":14,"v":0.075},{"s":"S","id":"M6","g":"M","h":15,"v":0.090},{"s":"S","id":"M6","g":"M","h":16,"v":0.075},{"s":"S","id":"M6","g":"M","h":17,"v":0.010},{"s":"S","id":"M6","g":"M","h":18,"v":0.100},{"s":"S","id":"M6","g":"M","h":19,"v":0.050},{"s":"S","id":"M6","g":"M","h":20,"v":0.020},{"s":"S","id":"M6","g":"M","h":21,"v":0.013},{"s":"S","id":"M6","g":"M","h":22,"v":0.012},{"s":"S","id":"M6","g":"M","h":23,"v":0.012},
{"s":"S","id":"F1","g":"F","h":0,"v":0.015},{"s":"S","id":"F1","g":"F","h":1,"v":0.040},{"s":"S","id":"F1","g":"F","h":2,"v":0.090},{"s":"S","id":"F1","g":"F","h":3,"v":0.020},{"s":"S","id":"F1","g":"F","h":4,"v":0.120},{"s":"S","id":"F1","g":"F","h":5,"v":0.130},{"s":"S","id":"F1","g":"F","h":6,"v":0.125},{"s":"S","id":"F1","g":"F","h":7,"v":0.170},{"s":"S","id":"F1","g":"F","h":8,"v":0.145},{"s":"S","id":"F1","g":"F","h":9,"v":0.120},{"s":"S","id":"F1","g":"F","h":10,"v":0.160},{"s":"S","id":"F1","g":"F","h":11,"v":0.060},{"s":"S","id":"F1","g":"F","h":12,"v":0.100},{"s":"S","id":"F1","g":"F","h":13,"v":0.120},{"s":"S","id":"F1","g":"F","h":14,"v":0.195},{"s":"S","id":"F1","g":"F","h":15,"v":0.165},{"s":"S","id":"F1","g":"F","h":16,"v":0.130},{"s":"S","id":"F1","g":"F","h":17,"v":0.120},{"s":"S","id":"F1","g":"F","h":18,"v":0.140},{"s":"S","id":"F1","g":"F","h":19,"v":0.085},{"s":"S","id":"F1","g":"F","h":20,"v":0.030},{"s":"S","id":"F1","g":"F","h":21,"v":0.030},{"s":"S","id":"F1","g":"F","h":22,"v":0.022},{"s":"S","id":"F1","g":"F","h":23,"v":0.025},
{"s":"S","id":"F2","g":"F","h":0,"v":0.012},{"s":"S","id":"F2","g":"F","h":1,"v":0.015},{"s":"S","id":"F2","g":"F","h":2,"v":0.022},{"s":"S","id":"F2","g":"F","h":3,"v":0.012},{"s":"S","id":"F2","g":"F","h":4,"v":0.065},{"s":"S","id":"F2","g":"F","h":5,"v":0.065},{"s":"S","id":"F2","g":"F","h":6,"v":0.065},{"s":"S","id":"F2","g":"F","h":7,"v":0.075},{"s":"S","id":"F2","g":"F","h":8,"v":0.060},{"s":"S","id":"F2","g":"F","h":9,"v":0.045},{"s":"S","id":"F2","g":"F","h":10,"v":0.030},{"s":"S","id":"F2","g":"F","h":11,"v":0.030},{"s":"S","id":"F2","g":"F","h":12,"v":0.050},{"s":"S","id":"F2","g":"F","h":13,"v":0.065},{"s":"S","id":"F2","g":"F","h":14,"v":0.170},{"s":"S","id":"F2","g":"F","h":15,"v":0.090},{"s":"S","id":"F2","g":"F","h":16,"v":0.060},{"s":"S","id":"F2","g":"F","h":17,"v":0.040},{"s":"S","id":"F2","g":"F","h":18,"v":0.100},{"s":"S","id":"F2","g":"F","h":19,"v":0.060},{"s":"S","id":"F2","g":"F","h":20,"v":0.015},{"s":"S","id":"F2","g":"F","h":21,"v":0.015},{"s":"S","id":"F2","g":"F","h":22,"v":0.014},{"s":"S","id":"F2","g":"F","h":23,"v":0.013},
{"s":"S","id":"F3","g":"F","h":0,"v":0.010},{"s":"S","id":"F3","g":"F","h":1,"v":0.010},{"s":"S","id":"F3","g":"F","h":2,"v":0.012},{"s":"S","id":"F3","g":"F","h":3,"v":0.020},{"s":"S","id":"F3","g":"F","h":4,"v":0.050},{"s":"S","id":"F3","g":"F","h":5,"v":0.035},{"s":"S","id":"F3","g":"F","h":6,"v":0.030},{"s":"S","id":"F3","g":"F","h":7,"v":0.025},{"s":"S","id":"F3","g":"F","h":8,"v":0.110},{"s":"S","id":"F3","g":"F","h":9,"v":0.090},{"s":"S","id":"F3","g":"F","h":10,"v":0.070},{"s":"S","id":"F3","g":"F","h":11,"v":0.050},{"s":"S","id":"F3","g":"F","h":12,"v":0.035},{"s":"S","id":"F3","g":"F","h":13,"v":0.075},{"s":"S","id":"F3","g":"F","h":14,"v":0.130},{"s":"S","id":"F3","g":"F","h":15,"v":0.070},{"s":"S","id":"F3","g":"F","h":16,"v":0.020},{"s":"S","id":"F3","g":"F","h":17,"v":0.025},{"s":"S","id":"F3","g":"F","h":18,"v":0.035},{"s":"S","id":"F3","g":"F","h":19,"v":0.030},{"s":"S","id":"F3","g":"F","h":20,"v":0.015},{"s":"S","id":"F3","g":"F","h":21,"v":0.012},{"s":"S","id":"F3","g":"F","h":22,"v":0.011},{"s":"S","id":"F3","g":"F","h":23,"v":0.011},
{"s":"S","id":"F4","g":"F","h":0,"v":0.018},{"s":"S","id":"F4","g":"F","h":1,"v":0.018},{"s":"S","id":"F4","g":"F","h":2,"v":0.020},{"s":"S","id":"F4","g":"F","h":3,"v":0.018},{"s":"S","id":"F4","g":"F","h":4,"v":0.100},{"s":"S","id":"F4","g":"F","h":5,"v":0.140},{"s":"S","id":"F4","g":"F","h":6,"v":0.020},{"s":"S","id":"F4","g":"F","h":7,"v":0.060},{"s":"S","id":"F4","g":"F","h":8,"v":0.100},{"s":"S","id":"F4","g":"F","h":9,"v":0.065},{"s":"S","id":"F4","g":"F","h":10,"v":0.055},{"s":"S","id":"F4","g":"F","h":11,"v":0.075},{"s":"S","id":"F4","g":"F","h":12,"v":0.030},{"s":"S","id":"F4","g":"F","h":13,"v":0.040},{"s":"S","id":"F4","g":"F","h":14,"v":0.105},{"s":"S","id":"F4","g":"F","h":15,"v":0.125},{"s":"S","id":"F4","g":"F","h":16,"v":0.085},{"s":"S","id":"F4","g":"F","h":17,"v":0.065},{"s":"S","id":"F4","g":"F","h":18,"v":0.150},{"s":"S","id":"F4","g":"F","h":19,"v":0.100},{"s":"S","id":"F4","g":"F","h":20,"v":0.030},{"s":"S","id":"F4","g":"F","h":21,"v":0.020},{"s":"S","id":"F4","g":"F","h":22,"v":0.018},{"s":"S","id":"F4","g":"F","h":23,"v":0.018},
{"s":"S","id":"F5","g":"F","h":0,"v":0.008},{"s":"S","id":"F5","g":"F","h":1,"v":0.009},{"s":"S","id":"F5","g":"F","h":2,"v":0.010},{"s":"S","id":"F5","g":"F","h":3,"v":0.015},{"s":"S","id":"F5","g":"F","h":4,"v":0.130},{"s":"S","id":"F5","g":"F","h":5,"v":0.110},{"s":"S","id":"F5","g":"F","h":6,"v":0.100},{"s":"S","id":"F5","g":"F","h":7,"v":0.120},{"s":"S","id":"F5","g":"F","h":8,"v":0.080},{"s":"S","id":"F5","g":"F","h":9,"v":0.040},{"s":"S","id":"F5","g":"F","h":10,"v":0.065},{"s":"S","id":"F5","g":"F","h":11,"v":0.080},{"s":"S","id":"F5","g":"F","h":12,"v":0.065},{"s":"S","id":"F5","g":"F","h":13,"v":0.045},{"s":"S","id":"F5","g":"F","h":14,"v":0.090},{"s":"S","id":"F5","g":"F","h":15,"v":0.050},{"s":"S","id":"F5","g":"F","h":16,"v":0.090},{"s":"S","id":"F5","g":"F","h":17,"v":0.100},{"s":"S","id":"F5","g":"F","h":18,"v":0.080},{"s":"S","id":"F5","g":"F","h":19,"v":0.045},{"s":"S","id":"F5","g":"F","h":20,"v":0.010},{"s":"S","id":"F5","g":"F","h":21,"v":0.009},{"s":"S","id":"F5","g":"F","h":22,"v":0.009},{"s":"S","id":"F5","g":"F","h":23,"v":0.008},
{"s":"S","id":"F6","g":"F","h":0,"v":0.013},{"s":"S","id":"F6","g":"F","h":1,"v":0.014},{"s":"S","id":"F6","g":"F","h":2,"v":0.016},{"s":"S","id":"F6","g":"F","h":3,"v":0.016},{"s":"S","id":"F6","g":"F","h":4,"v":0.090},{"s":"S","id":"F6","g":"F","h":5,"v":0.090},{"s":"S","id":"F6","g":"F","h":6,"v":0.110},{"s":"S","id":"F6","g":"F","h":7,"v":0.090},{"s":"S","id":"F6","g":"F","h":8,"v":0.095},{"s":"S","id":"F6","g":"F","h":9,"v":0.050},{"s":"S","id":"F6","g":"F","h":10,"v":0.020},{"s":"S","id":"F6","g":"F","h":11,"v":0.040},{"s":"S","id":"F6","g":"F","h":12,"v":0.050},{"s":"S","id":"F6","g":"F","h":13,"v":0.080},{"s":"S","id":"F6","g":"F","h":14,"v":0.060},{"s":"S","id":"F6","g":"F","h":15,"v":0.045},{"s":"S","id":"F6","g":"F","h":16,"v":0.115},{"s":"S","id":"F6","g":"F","h":17,"v":0.085},{"s":"S","id":"F6","g":"F","h":18,"v":0.045},{"s":"S","id":"F6","g":"F","h":19,"v":0.050},{"s":"S","id":"F6","g":"F","h":20,"v":0.012},{"s":"S","id":"F6","g":"F","h":21,"v":0.014},{"s":"S","id":"F6","g":"F","h":22,"v":0.013},{"s":"S","id":"F6","g":"F","h":23,"v":0.013}
]},
"vconcat":[
{"width":1576,"height":427,
"layer":[
{"data":{"name":"shade"},"transform":[{"filter":"datum.s==='W'"}],"mark":{"type":"rect","color":"#a6a6a6"},
"encoding":{"x":{"field":"a","type":"quantitative","scale":{"domain":[0,23],"nice":false,"zero":false},"axis":{"values":[0,1,2,3,4,5,6,7,8,9,10,11,12,13,14,15,16,17,18,19,20,21,22,23],"format":"d","title":null,"labelPadding":4}},"x2":{"field":"b"},
"y":{"datum":0,"type":"quantitative","scale":{"domain":[0,0.5],"nice":false},"axis":{"values":[0,0.1,0.2,0.3,0.4,0.5],"format":".1f","title":null,"labelPadding":8}},"y2":{"datum":0.5}}},
{"data":{"name":"ind"},"transform":[{"filter":"datum.s==='W' && datum.g==='M'"}],"mark":{"type":"line","color":"#404040","strokeWidth":1.6},
"encoding":{"x":{"field":"h","type":"quantitative"},"y":{"field":"v","type":"quantitative"},"detail":{"field":"id"}}},
{"data":{"name":"ind"},"transform":[{"filter":"datum.s==='W' && datum.g==='F'"}],"mark":{"type":"line","color":"#404040","strokeWidth":1.6,"strokeDash":[6,4]},
"encoding":{"x":{"field":"h","type":"quantitative"},"y":{"field":"v","type":"quantitative"},"detail":{"field":"id"}}},
{"data":{"name":"means"},"transform":[{"filter":"datum.s==='W' && datum.g==='M'"}],"mark":{"type":"line","color":"#000","strokeWidth":5},
"encoding":{"x":{"field":"h","type":"quantitative"},"y":{"field":"v","type":"quantitative"}}},
{"data":{"name":"means"},"transform":[{"filter":"datum.s==='W' && datum.g==='F'"}],"mark":{"type":"line","color":"#000","strokeWidth":5.5,"strokeDash":[20,15]},
"encoding":{"x":{"field":"h","type":"quantitative"},"y":{"field":"v","type":"quantitative"}}},
{"data":{"name":"labels"},"transform":[{"filter":"datum.s==='W'"}],"mark":{"type":"text","align":"left","baseline":"middle","font":"Lato","fontSize":34,"color":"#000"},
"encoding":{"x":{"field":"h","type":"quantitative"},"y":{"field":"v","type":"quantitative"},"text":{"field":"t"}}},
{"data":{"name":"legend"},"transform":[{"filter":"datum.g==='M'"}],"mark":{"type":"rule","color":"#000","strokeWidth":4},
"encoding":{"x":{"field":"x1","type":"quantitative"},"x2":{"field":"x2"},"y":{"field":"lv","type":"quantitative"}}},
{"data":{"name":"legend"},"transform":[{"filter":"datum.g==='F'"}],"mark":{"type":"rule","color":"#000","strokeWidth":4,"strokeDash":[17,14]},
"encoding":{"x":{"field":"x1","type":"quantitative"},"x2":{"field":"x2"},"y":{"field":"lv","type":"quantitative"}}}
]},
{"width":1576,"height":389,
"layer":[
{"data":{"name":"shade"},"transform":[{"filter":"datum.s==='S'"}],"mark":{"type":"rect","color":"#a6a6a6"},
"encoding":{"x":{"field":"a","type":"quantitative","scale":{"domain":[0,23],"nice":false,"zero":false},"axis":{"values":[0,1,2,3,4,5,6,7,8,9,10,11,12,13,14,15,16,17,18,19,20,21,22,23],"format":"d","title":"Solar Hour","titleFontSize":41,"labelPadding":4,"titleY":91,"titleBaseline":"middle"}},"x2":{"field":"b"},
"y":{"datum":0,"type":"quantitative","scale":{"domain":[0,0.5],"nice":false},"axis":{"values":[0,0.1,0.2,0.3,0.4,0.5],"format":".1f","title":"VeDBA (gravitational g)","titleFontSize":36,"labelPadding":8,"titleX":-149,"titleY":-17,"titleBaseline":"middle","titleAlign":"center","titleAngle":270}},"y2":{"datum":0.5}}},
{"data":{"name":"ind"},"transform":[{"filter":"datum.s==='S' && datum.g==='M'"}],"mark":{"type":"line","color":"#404040","strokeWidth":1.6},
"encoding":{"x":{"field":"h","type":"quantitative"},"y":{"field":"v","type":"quantitative"},"detail":{"field":"id"}}},
{"data":{"name":"ind"},"transform":[{"filter":"datum.s==='S' && datum.g==='F'"}],"mark":{"type":"line","color":"#404040","strokeWidth":1.6,"strokeDash":[6,4]},
"encoding":{"x":{"field":"h","type":"quantitative"},"y":{"field":"v","type":"quantitative"},"detail":{"field":"id"}}},
{"data":{"name":"means"},"transform":[{"filter":"datum.s==='S' && datum.g==='M'"}],"mark":{"type":"line","color":"#000","strokeWidth":5},
"encoding":{"x":{"field":"h","type":"quantitative"},"y":{"field":"v","type":"quantitative"}}},
{"data":{"name":"means"},"transform":[{"filter":"datum.s==='S' && datum.g==='F'"}],"mark":{"type":"line","color":"#000","strokeWidth":5.5,"strokeDash":[20,15]},
"encoding":{"x":{"field":"h","type":"quantitative"},"y":{"field":"v","type":"quantitative"}}},
{"data":{"name":"labels"},"transform":[{"filter":"datum.s==='S'"}],"mark":{"type":"text","align":"left","baseline":"middle","font":"Lato","fontSize":34,"color":"#000"},
"encoding":{"x":{"field":"h","type":"quantitative"},"y":{"field":"v","type":"quantitative"},"text":{"field":"t"}}}
]}
]
}
